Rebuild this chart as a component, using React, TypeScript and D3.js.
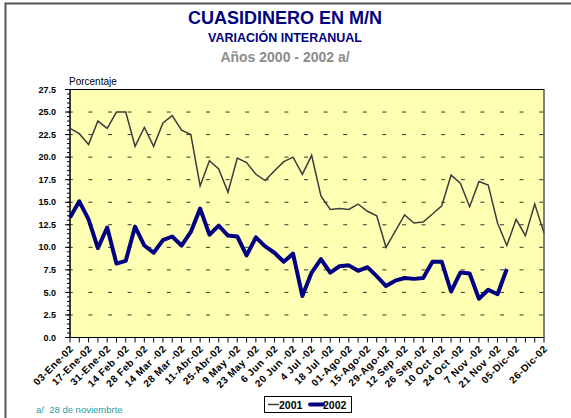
import * as d3 from "d3";

const WEEKS = [
  "03-Ene-02", "10-Ene-02", "17-Ene-02", "24-Ene-02", "31-Ene-02",
  "7 Feb -02", "14 Feb -02", "21 Feb -02", "28 Feb -02",
  "7 Mar -02", "14 Mar -02", "21 Mar -02", "28 Mar -02",
  "04-Abr-02", "11-Abr-02", "18-Abr-02", "25-Abr-02",
  "2 May -02", "9 May -02", "16 May -02", "23 May -02", "30 May -02",
  "6 Jun -02", "13 Jun -02", "20 Jun -02", "27 Jun -02",
  "4 Jul -02", "11 Jul -02", "18 Jul -02", "25 Jul -02",
  "01-Ago-02", "08-Ago-02", "15-Ago-02", "22-Ago-02", "29-Ago-02",
  "5 Sep -02", "12 Sep -02", "19 Sep -02", "26 Sep -02",
  "3 Oct -02", "10 Oct -02", "17 Oct -02", "24 Oct -02", "31 Oct -02",
  "7 Nov -02", "14 Nov -02", "21 Nov -02", "28 Nov -02",
  "05-Dic-02", "12-Dic-02", "19-Dic-02", "26-Dic-02",
];
// categories that get a label on the axis
const LABELLED = [
  "03-Ene-02", "17-Ene-02", "31-Ene-02", "14 Feb -02", "28 Feb -02", "14 Mar -02",
  "28 Mar -02", "11-Abr-02", "25-Abr-02", "9 May -02", "23 May -02", "6 Jun -02",
  "20 Jun -02", "4 Jul -02", "18 Jul -02", "01-Ago-02", "15-Ago-02", "29-Ago-02",
  "12 Sep -02", "26 Sep -02", "10 Oct -02", "24 Oct -02", "7 Nov -02", "21 Nov -02",
  "05-Dic-02", "26-Dic-02",
];

const S2001 = [
  23.2, 22.6, 21.4, 24.0, 23.2, 25.0, 25.0, 21.2, 23.3, 21.2, 23.8, 24.6, 23.0,
  22.5, 16.8, 19.6, 18.7, 16.1, 19.9, 19.4, 18.1, 17.4, 18.5, 19.5, 20.0, 18.1,
  20.2, 15.7, 14.2, 14.3, 14.2, 14.8, 14.0, 13.5, 10.0, 11.8, 13.6, 12.7, 12.8,
  13.7, 14.6, 18.0, 17.1, 14.5, 17.3, 16.9, 12.7, 10.2, 13.1, 11.3, 14.8, 11.6,
];
const S2002 = [
  13.3, 15.1, 13.1, 9.9, 12.2, 8.2, 8.5, 12.3, 10.2, 9.4, 10.8, 11.2, 10.2,
  11.7, 14.3, 11.4, 12.4, 11.3, 11.2, 9.1, 11.1, 10.1, 9.4, 8.4, 9.3, 4.6,
  7.2, 8.7, 7.2, 7.9, 8.0, 7.4, 7.8, 6.8, 5.7, 6.3, 6.6, 6.5, 6.6,
  8.4, 8.4, 5.1, 7.2, 7.1, 4.3, 5.3, 4.8, 7.6,
];
const Y_TICKS = [0, 2.5, 5, 7.5, 10, 12.5, 15, 17.5, 20, 22.5, 25, 27.5];

const W = 571;
const H = 418;
const PLOT = { left: 70, right: 544, top: 89.5, bottom: 337.5 };
const FONT = "'Liberation Sans', Arial, sans-serif";

export default function App() {
  const x = d3.scalePoint<string>().domain(WEEKS).range([PLOT.left, PLOT.right]);
  const y = d3.scaleLinear().domain([0, 27.5]).range([PLOT.bottom, PLOT.top]);
  const minor = d3.range(0, 27.5001, 0.5);

  const line = d3
    .line<number>()
    .x((_, i) => x(WEEKS[i]) as number)
    .y((d) => y(d));

  return (
    <svg
      width={W}
      height={H}
      style={{ position: "absolute", left: 0, top: 0, background: "#fff", fontFamily: FONT }}
    >
      {/* outer frame */}
      <path d={`M5.5,${H} V3.5 H${W}`} fill="none" stroke="#555" strokeWidth={2} />

      <text x={285} y={24} textAnchor="middle" fontSize={18} fontWeight="bold" fill="#000080">
        CUASIDINERO EN M/N
      </text>
      <text x={285} y={42} textAnchor="middle" fontSize={12.5} fontWeight="bold" fill="#000080">
        VARIACIÓN INTERANUAL
      </text>
      <text x={285} y={62} textAnchor="middle" fontSize={14} fontWeight="bold" fill="#8c8c8c">
        Años 2000 - 2002 a/
      </text>
      <text x={69} y={85} fontSize={10} fill="#000">
        Porcentaje
      </text>

      <rect
        x={PLOT.left}
        y={PLOT.top}
        width={PLOT.right - PLOT.left}
        height={PLOT.bottom - PLOT.top}
        fill="#ffffb4"
        stroke="#000"
        strokeWidth={1}
      />

      {/* dashed grid */}
      {Y_TICKS.filter((t) => t > 0 && t < 27.5).map((t) => (
        <line
          key={t}
          x1={PLOT.left}
          x2={PLOT.right}
          y1={y(t)}
          y2={y(t)}
          stroke="#333"
          strokeWidth={1}
          strokeDasharray="4 15.6"
          strokeDashoffset={1.2}
        />
      ))}

      {/* y axis */}
      <line x1={PLOT.left} x2={PLOT.left} y1={PLOT.top} y2={PLOT.bottom} stroke="#000" />
      {minor.map((t) => (
        <line key={t} x1={PLOT.left - 3} x2={PLOT.left} y1={y(t)} y2={y(t)} stroke="#000" />
      ))}
      {Y_TICKS.map((t) => (
        <g key={t}>
          <line x1={PLOT.left - 5} x2={PLOT.left} y1={y(t)} y2={y(t)} stroke="#000" />
          <text
            x={PLOT.left - 14}
            y={y(t)}
            dy="0.35em"
            textAnchor="end"
            fontSize={9}
            fontWeight="bold"
            fill="#000"
          >
            {t.toFixed(1)}
          </text>
        </g>
      ))}

      {/* x axis */}
      <line x1={PLOT.left} x2={PLOT.right} y1={PLOT.bottom} y2={PLOT.bottom} stroke="#000" />
      {WEEKS.map((w) => (
        <line
          key={w}
          x1={x(w)}
          x2={x(w)}
          y1={PLOT.bottom}
          y2={PLOT.bottom + 5}
          stroke="#000"
        />
      ))}
      {LABELLED.map((w) => (
        <text
          key={w}
          transform={`translate(${(x(w) as number) + 4},${PLOT.bottom + 12}) rotate(-45)`}
          textAnchor="end"
          fontSize={10}
          fontWeight="bold"
          letterSpacing={0.5}
          fill="#000"
        >
          {w}
        </text>
      ))}

      {/* series */}
      <path d={line(S2001) ?? ""} fill="none" stroke="#3c3c3c" strokeWidth={1.5} />
      <path
        d={line(S2002) ?? ""}
        fill="none"
        stroke="#000080"
        strokeWidth={4}
        strokeLinejoin="round"
      />

      {/* legend */}
      <rect x={264.5} y={396.5} width={87} height={16} fill="#fff" stroke="#000" />
      <line x1={268} x2={279} y1={404.5} y2={404.5} stroke="#3c3c3c" strokeWidth={1.5} />
      <text x={279} y={408.5} fontSize={10.5} fontWeight="bold" fill="#000">
        2001
      </text>
      <line x1={310} x2={323} y1={404.5} y2={404.5} stroke="#000080" strokeWidth={4} strokeLinecap="round" />
      <text x={323} y={408.5} fontSize={10.5} fontWeight="bold" fill="#000">
        2002
      </text>

      <text x={36} y={413} fontSize={9.5} fill="#2a9d9d" style={{ whiteSpace: "pre" }}>
        {"a/  28 de noviembrte"}
      </text>
    </svg>
  );
}
